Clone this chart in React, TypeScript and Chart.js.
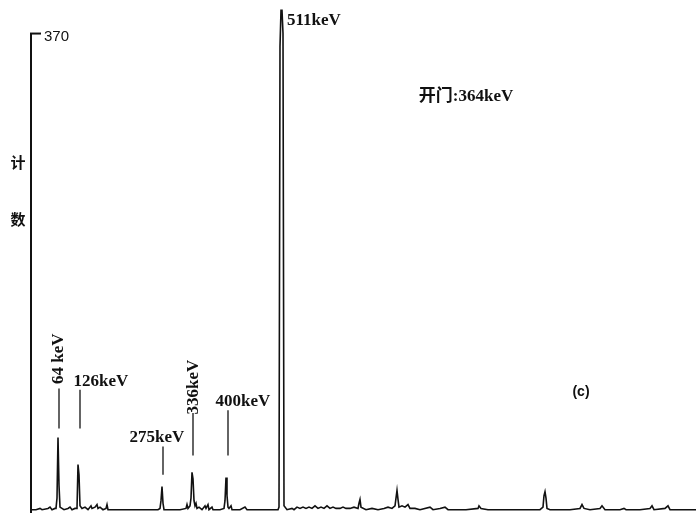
import { useEffect, useRef } from "react";
import { Chart, registerables } from "chart.js";
Chart.register(...registerables);

// Spectrum: channel number vs counts
const channels = [
  0, 5, 9, 11, 17, 19, 21, 24, 25, 26, 27, 28, 29, 31, 33, 37, 39, 41, 44, 46, 47, 48, 49, 51, 54, 57,
  60, 61, 64, 66, 67, 69, 72, 75, 76, 77, 81, 89, 99, 109, 119, 127, 129, 130, 131, 132, 133, 139, 149,
  155, 156, 157, 159, 160, 161, 162, 163, 164, 165, 166, 168, 171, 174, 175, 177, 178, 181, 182, 189,
  193, 194, 195, 196, 197, 198, 200, 201, 209, 214, 216, 224, 239, 247, 248, 249, 250, 251, 252, 253,
  256, 261, 263, 266, 269, 272, 275, 278, 281, 284, 287, 290, 293, 296, 299, 302, 305, 309, 312, 315,
  319, 323, 327, 328, 329, 330, 335, 341, 347, 353, 357, 361, 364, 365, 366, 367, 368, 371, 374, 377,
  379, 384, 389, 399, 402, 409, 414, 417, 424, 435, 447, 448, 450, 457, 469, 489, 509, 512, 513, 514,
  515, 516, 519, 539, 549, 551, 553, 559, 569, 571, 574, 589, 593, 595, 609, 619, 621, 623, 634, 637,
  639, 649, 665,
];
const counts = [
  1, 1, 2, 1, 2, 3, 1, 2, 2, 10, 57, 20, 3, 2, 1, 2, 3, 1, 2, 2, 36, 28, 4, 2, 3, 1,
  4, 2, 3, 5, 2, 3, 1, 2, 5, 1, 1, 1, 1, 1, 1, 1, 2, 8, 19, 6, 1, 1, 1,
  2, 5, 2, 4, 10, 30, 25, 8, 4, 6, 2, 3, 1, 4, 2, 5, 1, 3, 1, 1,
  2, 8, 26, 12, 3, 2, 4, 1, 1, 3, 1, 1, 1, 1, 3, 360, 388, 388, 370, 4,
  1, 2, 1, 3, 2, 3, 2, 3, 2, 4, 2, 3, 2, 4, 2, 3, 2, 2, 3, 2,
  2, 3, 2, 6, 9, 3, 1, 2, 1, 2, 3, 2, 4, 10, 16, 9, 3, 4, 3, 5,
  2, 2, 1, 3, 1, 2, 3, 1, 1, 1, 2, 4, 2, 1, 1, 1, 1, 3, 12, 15,
  10, 2, 1, 1, 2, 5, 2, 1, 2, 4, 1, 1, 2, 1, 1, 2, 4, 1, 2, 4,
  1, 1, 1,
];
const yTicks = [370];
const yTickLabels = ["370"];
const yMax = 396;
const xMax = 665;
const axisTitleChars = ["计", "数"];
const axisTitleValues = [270, 226];

// Peak labels (channel, counts) and leader lines
const peakLabels = [
  { text: "64 keV", x: 28, y: 118, rotate: true },
  { text: "126keV", x: 70, y: 100, rotate: false },
  { text: "275keV", x: 126, y: 57, rotate: false },
  { text: "336keV", x: 163, y: 96, rotate: true },
  { text: "400keV", x: 212, y: 85, rotate: false },
];
const leaderX = [28, 49, 132, 162, 197];
const leaderFrom = [64, 64, 28, 43, 43];
const leaderTo = [95, 94, 50, 76, 78];
const notes = [
  { text: "511keV", x: 256, y: 380, align: "left" },
  { text: "开门:364keV", x: 435, y: 321, align: "center" },
  { text: "(c)", x: 550, y: 92, align: "center" },
];

const serif = "'Liberation Serif', 'Noto Sans CJK SC', serif";

const annotatePlugin = {
  id: "annotate",
  afterDraw(chart: any) {
    const { ctx, scales, chartArea } = chart;
    const xs = scales.x;
    const ys = scales.y;
    ctx.save();
    ctx.strokeStyle = "#111";
    ctx.fillStyle = "#111";
    // y axis line, inward tick marks and tick labels
    ctx.lineWidth = 2;
    const topTick = ys.getPixelForValue(Math.max(...yTicks));
    ctx.beginPath();
    ctx.moveTo(chartArea.left, topTick);
    ctx.lineTo(chartArea.left, chartArea.bottom + 2);
    ctx.stroke();
    ctx.font = "15px 'Liberation Sans', sans-serif";
    ctx.textAlign = "left";
    ctx.textBaseline = "middle";
    yTicks.forEach((v, i) => {
      const py = ys.getPixelForValue(v);
      ctx.beginPath();
      ctx.moveTo(chartArea.left - 1, py);
      ctx.lineTo(chartArea.left + 10, py);
      ctx.stroke();
      ctx.fillText(yTickLabels[i], chartArea.left + 13, py + 3);
    });
    // leader lines
    ctx.lineWidth = 1.3;
    leaderX.forEach((lx, i) => {
      const px = xs.getPixelForValue(lx);
      ctx.beginPath();
      ctx.moveTo(px, ys.getPixelForValue(leaderFrom[i]));
      ctx.lineTo(px, ys.getPixelForValue(leaderTo[i]));
      ctx.stroke();
    });
    // peak labels
    ctx.font = `bold 17px ${serif}`;
    ctx.textAlign = "center";
    peakLabels.forEach((l) => {
      const px = xs.getPixelForValue(l.x);
      const py = ys.getPixelForValue(l.y);
      ctx.save();
      ctx.translate(px, py);
      if (l.rotate) ctx.rotate(-Math.PI / 2);
      ctx.fillText(l.text, 0, 0);
      ctx.restore();
    });
    // notes
    notes.forEach((n) => {
      ctx.font = n.text === "(c)" ? "bold 14px 'Liberation Sans', sans-serif" : `bold 17px ${serif}`;
      ctx.textAlign = n.align;
      ctx.fillText(n.text, xs.getPixelForValue(n.x), ys.getPixelForValue(n.y));
    });
    // axis title (vertical, stacked characters)
    ctx.font = "bold 15px 'Noto Sans CJK SC', sans-serif";
    ctx.textAlign = "center";
    axisTitleChars.forEach((c, i) => {
      ctx.fillText(c, chartArea.left - 13, ys.getPixelForValue(axisTitleValues[i]));
    });
    ctx.restore();
  },
};

export default function App() {
  const ref = useRef<HTMLCanvasElement>(null);
  useEffect(() => {
    if (!ref.current) return;
    const chart = new Chart(ref.current, {
      type: "line",
      data: {
        datasets: [
          {
            data: channels.map((c, i) => ({ x: c, y: counts[i] })),
            borderColor: "#111",
            borderWidth: 1.6,
            pointRadius: 0,
            tension: 0,
            fill: false,
          },
        ],
      },
      options: {
        animation: false,
        responsive: false,
        layout: { padding: { left: 31, right: 0, top: 0, bottom: 2 } },
        plugins: { legend: { display: false }, tooltip: { enabled: false } },
        scales: {
          x: { type: "linear", min: 0, max: xMax, display: false },
          y: { type: "linear", min: 0, max: yMax, display: false },
        },
      },
      plugins: [annotatePlugin],
    });
    return () => chart.destroy();
  }, []);
  return (
    <div style={{ position: "absolute", left: 0, top: 0, width: 696, height: 513, background: "#fff" }}>
      <canvas ref={ref} width={696} height={513} style={{ display: "block" }} />
    </div>
  );
}
